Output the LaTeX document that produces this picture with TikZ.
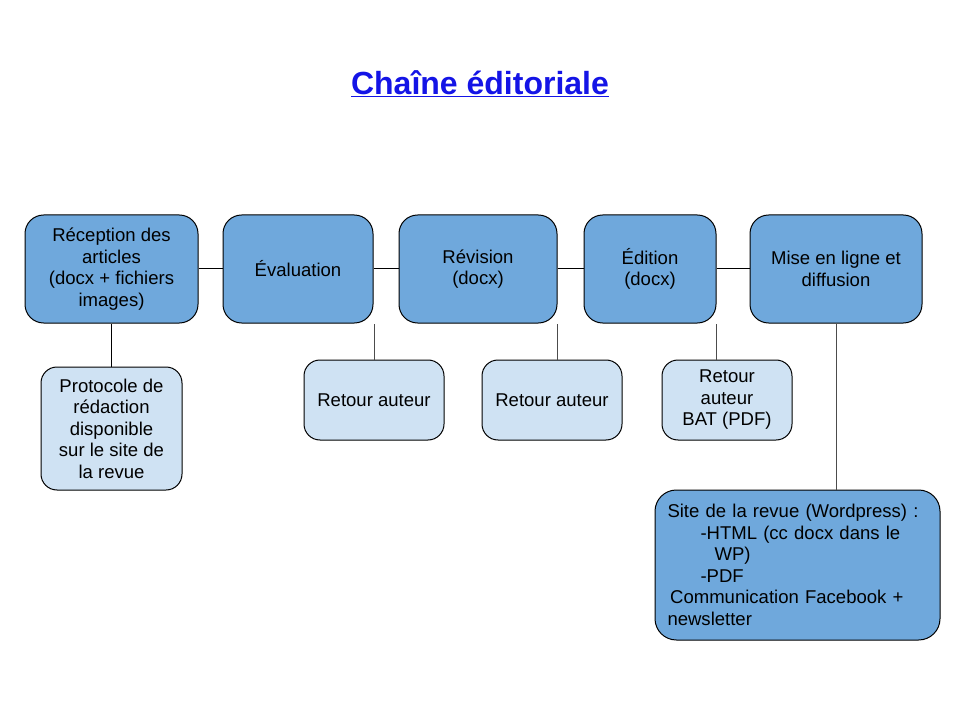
\documentclass[tikz,border=0pt]{standalone}
\usepackage{fontspec}
\setmainfont{Liberation Sans}
\definecolor{darkbox}{HTML}{6FA8DC}
\definecolor{lightbox}{HTML}{CFE2F3}
\definecolor{titleblue}{RGB}{20,20,230}
\begin{document}
\begin{tikzpicture}[x=0.75pt,y=-0.75pt,
  every node/.style={font=\fontsize{13.9}{16.1}\selectfont},
  mainbox/.style={draw=black, line width=0.75pt, fill=darkbox, rounded corners=14pt, align=center, minimum height=81pt, inner sep=2pt},
  subbox/.style={draw=black, line width=0.75pt, fill=lightbox, rounded corners=12pt, align=center, inner sep=2pt},
  link/.style={draw=black, line width=0.75pt},
  glink/.style={draw=black!70, line width=0.75pt}]
\useasboundingbox (0,0) rectangle (960,720);
\node[text=titleblue, font=\fontsize{24}{28}\selectfont\bfseries] (title) at (480,84) {\underline{Chaîne éditoriale}};

\node[mainbox, minimum width=129.75pt] (rec) at (111.5,269) {Réception des\\articles\\(docx + fichiers\\images)};
\node[mainbox, minimum width=112.5pt] (eva) at (298,269) {Évaluation};
\node[mainbox, minimum width=118.5pt] (rev) at (478,269) {Révision\\(docx)};
\node[mainbox, minimum width=99pt] (edi) at (650,269) {Édition\\(docx)};
\node[mainbox, minimum width=129pt] (mis) at (836,269) {Mise en ligne et\\diffusion};

\node[subbox, minimum width=105.75pt, minimum height=92.25pt] (pro) at (111.5,428.5) {Protocole de\\rédaction\\disponible\\sur le site de\\la revue};
\node[subbox, minimum width=105pt, minimum height=60pt] (ra1) at (374,400) {Retour auteur};
\node[subbox, minimum width=105pt, minimum height=60pt] (ra2) at (552,400) {Retour auteur};
\node[subbox, minimum width=97.5pt, minimum height=60pt] (bat) at (727,400) {Retour\\auteur\\BAT (PDF)};

\node[mainbox, rounded corners=16pt, minimum width=213.75pt, minimum height=112.5pt, text width=195pt, align=left] (site) at (797.5,565)
{Site de la revue (Wordpress) :\\
\hspace*{24.75pt}-HTML (cc docx dans le\\
\hspace*{35.25pt}WP)\\
\hspace*{24.75pt}-PDF\\
\hspace*{2pt}Communication Facebook +\\
newsletter};

\draw[link] (rec.east) -- (eva.west);
\draw[link] (eva.east) -- (rev.west);
\draw[link] (rev.east) -- (edi.west);
\draw[link] (edi.east) -- (mis.west);
\draw[link] (rec.south) -- (pro.north);
\draw[glink] (ra1.north) -- (ra1.north |- eva.south);
\draw[glink] ([xshift=3.75pt]ra2.north) -- ([xshift=3.75pt]ra2.north |- rev.south);
\draw[glink] ([xshift=-8.25pt]bat.north) -- ([xshift=-8.25pt]bat.north |- edi.south);
\draw[glink] (mis.south) -- (site.north -| mis.south);
\end{tikzpicture}
\end{document}
